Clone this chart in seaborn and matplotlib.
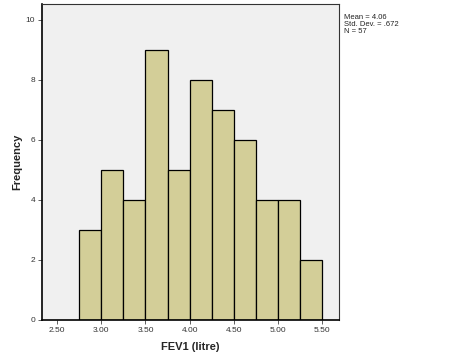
import numpy as np
import pandas as pd
import matplotlib
matplotlib.use("Agg")
import matplotlib.pyplot as plt
import seaborn as sns

# Histogram counts (bin width 0.25)
bin_edges = [2.75, 3.00, 3.25, 3.50, 3.75, 4.00, 4.25, 4.50, 4.75, 5.00, 5.25, 5.50]
counts = [3, 5, 4, 9, 5, 8, 7, 6, 4, 4, 2]
x_ticks = [2.50, 3.00, 3.50, 4.00, 4.50, 5.00, 5.50]
y_ticks = [0, 2, 4, 6, 8, 10]
stats_text = "Mean = 4.06\nStd. Dev. = .672\nN = 57"

centers = [(a + b) / 2 for a, b in zip(bin_edges[:-1], bin_edges[1:])]
df = pd.DataFrame({"fev1": centers, "n": counts})

sns.set_style("white")
plt.rcParams['font.family'] = ['Liberation Sans', 'DejaVu Sans']

fig = plt.figure(figsize=(4.51, 3.61), dpi=100)
ax = fig.add_axes([0.093, 0.1136, 0.659, 0.876])
ax.set_facecolor("#f0f0f0")

sns.histplot(data=df, x="fev1", weights="n", bins=bin_edges, ax=ax,
             color="#d3ce98", edgecolor="black", linewidth=0.9, alpha=1)

ax.set_xlim(2.33, 5.69)
ax.set_ylim(0, 10.53)
ax.set_xticks(x_ticks)
ax.set_xticklabels([f"{t:.2f}" for t in x_ticks])
ax.set_yticks(y_ticks)
ax.tick_params(axis="both", direction="out", length=3, width=0.6,
               labelsize=6, colors="#444444", pad=2, bottom=True, left=True)
ax.tick_params(axis="both", labelcolor="#333333")

for side in ["left", "bottom"]:
    ax.spines[side].set_color("black")
    ax.spines[side].set_linewidth(1.2)
for side in ["top", "right"]:
    ax.spines[side].set_visible(True)
    ax.spines[side].set_color("#333333")
    ax.spines[side].set_linewidth(0.8)

ax.set_xlabel("FEV1 (litre)", fontsize=8, fontweight="bold", labelpad=6)
ax.set_ylabel("Frequency", fontsize=8, fontweight="bold", labelpad=2)

fig.text(0.763, 0.962, stats_text, fontsize=5.5, va="top", ha="left",
         color="#222222", linespacing=1.0)

fig.savefig("out.png", dpi=100)
